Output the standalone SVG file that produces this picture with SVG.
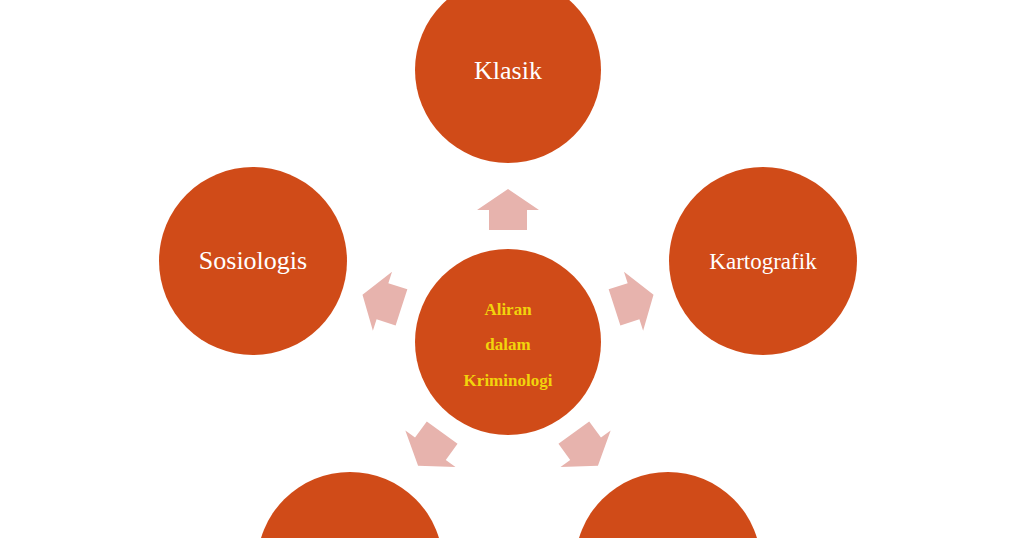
<svg xmlns="http://www.w3.org/2000/svg" width="1024" height="538" viewBox="0 0 1024 538">
<style>
.c{fill:#d04b18}
.a{fill:#e7b3ad}
.t{font-family:"Liberation Serif",serif;fill:#fff;font-size:26px;text-anchor:middle}
.m{font-family:"Liberation Serif",serif;fill:#f2d40c;font-size:17px;font-weight:bold;text-anchor:middle}
</style>
<defs><path id="arr" d="M0,-21 L31,0 L19,0 L19,20 L-19,20 L-19,0 L-31,0 Z"/></defs>
<rect width="1024" height="538" fill="#fff"/>
<g id="connectors">
<use href="#arr" class="a" transform="rotate(0 508 342) translate(508 210)"/>
<use href="#arr" class="a" transform="rotate(72 508 342) translate(508 210)"/>
<use href="#arr" class="a" transform="rotate(144 508 342) translate(508 210)"/>
<use href="#arr" class="a" transform="rotate(-144 508 342) translate(508 210)"/>
<use href="#arr" class="a" transform="rotate(-72 508 342) translate(508 210)"/>
</g>
<g id="center"><circle class="c" cx="508" cy="342" r="93"/>
<text class="m" x="508" y="315">Aliran</text><text class="m" x="508" y="350">dalam</text><text class="m" x="508" y="386">Kriminologi</text></g>
<g id="klasik"><circle class="c" cx="508" cy="70" r="93"/><text class="t" x="508" y="79">Klasik</text></g>
<g id="kartografik"><circle class="c" cx="763" cy="261" r="94"/><text class="t" x="763" y="269" style="font-size:23px">Kartografik</text></g>
<g id="sosiologis"><circle class="c" cx="253" cy="261" r="94"/><text class="t" x="253" y="269">Sosiologis</text></g>
<g id="bottom-left"><circle class="c" cx="350" cy="565" r="93"/></g>
<g id="bottom-right"><circle class="c" cx="668" cy="565" r="93"/></g>
</svg>
